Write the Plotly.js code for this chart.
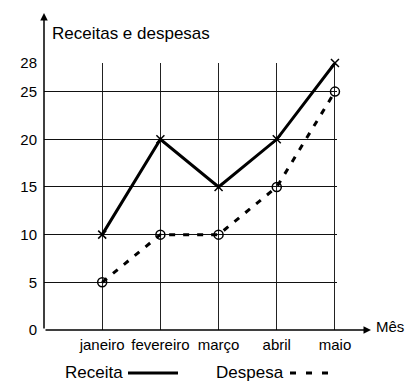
<!DOCTYPE html>
<html>
<head>
<meta charset="utf-8">
<script src="https://cdn.plot.ly/plotly-3.0.1.min.js"></script>
<style>html,body{margin:0;padding:0;background:#fff;}#chart{width:418px;height:389px;}</style>
</head>
<body>
<div id="chart"></div>
<script>
const months = ['janeiro', 'fevereiro', 'março', 'abril', 'maio'];
const receita = [10, 20, 15, 20, 28];
const despesa = [5, 10, 10, 15, 25];
const yTicks = [0, 5, 10, 15, 20, 25, 28];
const titleText = 'Receitas e despesas';
const xAxisLabel = 'Mês';
const legendNames = ['Receita', 'Despesa'];

const W = 418, H = 389;
const M = {l: 44, r: 81, t: 63, b: 59};
const PW = W - M.l - M.r, PH = H - M.t - M.b;
const px = x => (x - M.l) / PW;          // pixel x -> paper x
const py = y => (H - M.b - y) / PH;      // pixel y -> paper y
const FONT = 'Liberation Sans, Arial, sans-serif';

const traces = [
  {
    x: months, y: receita, type: 'scatter', mode: 'lines+markers', name: legendNames[0],
    line: {color: '#000', width: 3},
    marker: {symbol: 'x-thin', size: 8, line: {color: '#000', width: 1.5}, color: '#000'},
    cliponaxis: false
  },
  {
    x: months, y: despesa, type: 'scatter', mode: 'lines+markers', name: legendNames[1],
    line: {color: '#000', width: 3, dash: '6px,8px'},
    marker: {symbol: 'circle-open', size: 9, line: {color: '#000', width: 1.5}, color: '#000'},
    cliponaxis: false
  }
];

const layout = {
  width: W, height: H,
  margin: M,
  paper_bgcolor: '#fff', plot_bgcolor: '#fff',
  showlegend: false,
  font: {family: FONT, color: '#000', size: 15},
  title: {
    text: titleText, font: {family: FONT, size: 17, color: '#000'},
    xref: 'container', x: 52 / W, xanchor: 'left',
    yref: 'container', y: 1 - 33 / H, yanchor: 'middle'
  },
  xaxis: {
    type: 'category', range: [-1, 4.035],
    showgrid: true, gridcolor: '#222', gridwidth: 1,
    zeroline: false, showline: false, ticks: '',
    tickfont: {family: FONT, size: 15, color: '#000'},
    ticklabelstandoff: 4
  },
  yaxis: {
    range: [0, 28], tickvals: yTicks, ticktext: yTicks.map(String),
    showgrid: true, gridcolor: '#111', gridwidth: 1,
    zeroline: false, showline: false, ticks: '',
    tickfont: {family: FONT, size: 15, color: '#000'},
    ticklabelstandoff: 6
  },
  annotations: [
    // y axis with arrow
    {xref: 'paper', yref: 'paper', x: 0, y: py(13), ax: 0, ay: 330 - 13, axref: 'pixel', ayref: 'pixel',
     text: '', showarrow: true, arrowhead: 2, arrowsize: 1, arrowwidth: 1.5, arrowcolor: '#000', standoff: 0, startstandoff: 0},
    // x axis with arrow
    {xref: 'paper', yref: 'paper', x: px(371), y: 0, ax: -(371 - 44), ay: 0, axref: 'pixel', ayref: 'pixel',
     text: '', showarrow: true, arrowhead: 2, arrowsize: 1, arrowwidth: 1.5, arrowcolor: '#000', standoff: 0, startstandoff: 0},
    {xref: 'paper', yref: 'paper', x: px(374), y: py(326), xanchor: 'left', yanchor: 'middle',
     text: xAxisLabel, showarrow: false, font: {family: FONT, size: 15, color: '#000'}},
    // legend texts
    {xref: 'paper', yref: 'paper', x: px(125), y: py(372), xanchor: 'right', yanchor: 'middle',
     text: legendNames[0], showarrow: false, font: {family: FONT, size: 17, color: '#000'}},
    {xref: 'paper', yref: 'paper', x: px(286), y: py(372), xanchor: 'right', yanchor: 'middle',
     text: legendNames[1], showarrow: false, font: {family: FONT, size: 17, color: '#000'}}
  ],
  shapes: [
    {type: 'line', xref: 'paper', yref: 'paper', x0: px(128), x1: px(178), y0: py(373), y1: py(373),
     line: {color: '#000', width: 3}},
    {type: 'line', xref: 'paper', yref: 'paper', x0: px(290), x1: px(328), y0: py(373), y1: py(373),
     line: {color: '#000', width: 3, dash: '6px,10px'}}
  ]
};

Plotly.newPlot('chart', traces, layout, {displayModeBar: false, staticPlot: true});
</script>
</body>
</html>
